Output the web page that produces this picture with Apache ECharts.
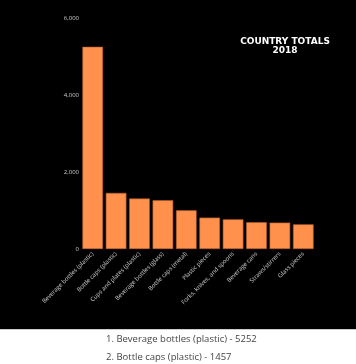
<!DOCTYPE html>
<html><head><meta charset="utf-8">
<script src="https://cdn.jsdelivr.net/npm/echarts@6/dist/echarts.min.js"></script>
<style>html,body{margin:0;padding:0;background:#fff;}#c{width:356px;height:364px;}</style>
</head><body><div id="c"></div>
<script>
var categories = ["Beverage bottles (plastic)","Bottle caps (plastic)","Cups and plates (plastic)","Beverage bottles (glass)","Bottle caps (metal)","Plastic pieces","Forks, knives, and spoons","Beverage cans","Straws/stirrers","Glass pieces"];
var values = [5252,1457,1310,1265,1005,815,770,695,685,640];
var yTicks = [0,2000,4000,6000];
var titleLines = ["COUNTRY TOTALS","2018"];
var footerCount = 2;

var chart = echarts.init(document.getElementById('c'));
var footer = [];
for (var i = 0; i < footerCount; i++) {
  footer.push({type:'text', left:106, top:334 + i*18, style:{text:(i+1)+'. '+categories[i]+' - '+values[i], fill:'#444', font:'9.5px "Open Sans", sans-serif'}});
}
var titleEls = titleLines.map(function(t, k){
  return {type:'text', x:285, y:42 + k*9, style:{text:t, fill:'#fff', font:'bold 9px "DejaVu Sans"', align:'center', verticalAlign:'middle'}};
});
chart.setOption({
  backgroundColor:'#fff',
  graphic:[{type:'rect', left:0, top:0, shape:{width:356,height:329}, style:{fill:'#000'}, z:-10},
           {type:'rect', left:0, top:329, shape:{width:356,height:1}, style:{fill:'#ccc'}, z:-10}].concat(footer, titleEls),
  grid:{left:81, right:41, top:18, bottom:115},
  xAxis:{type:'category', data:categories, axisLine:{show:false}, axisTick:{show:false},
    axisLabel:{rotate:45, color:'#ccc', fontSize:6, fontFamily:'"Open Sans"', margin:4, interval:0}},
  yAxis:{type:'value', min:0, max:6000, interval:2000, splitLine:{show:false}, axisLine:{show:false}, axisTick:{show:false},
    axisLabel:{color:'#ccc', fontSize:6, fontFamily:'"Open Sans"', margin:2,
      formatter:function(v){return v.toLocaleString('en-US');}}},
  series:[{type:'bar', data:values, barCategoryGap:'12%',
    itemStyle:{color:'#ff914d', borderColor:'#b8602c', borderWidth:0.6}, animation:false}]
});
</script></body></html>
